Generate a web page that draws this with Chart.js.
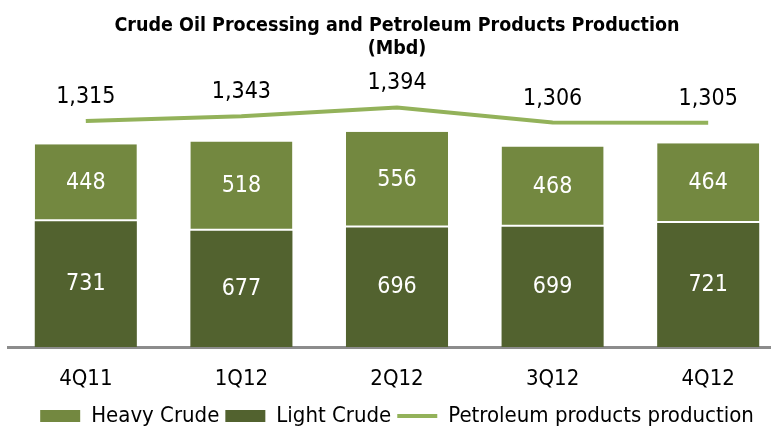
<!DOCTYPE html>
<html>
<head>
<meta charset="utf-8">
<script src="https://cdn.jsdelivr.net/npm/chart.js@4"></script>
<style>
  body { margin: 0; background: #fff; overflow: hidden; }
  #wrap { position: relative; width: 790px; height: 426px; }
</style>
</head>
<body>
<div id="wrap"><canvas id="chart"></canvas></div>
<script>
const quarters = ['4Q11', '1Q12', '2Q12', '3Q12', '4Q12'];
const lightCrude = [731, 677, 696, 699, 721];
const heavyCrude = [448, 518, 556, 468, 464];
const productsProduction = [1315, 1343, 1394, 1306, 1305];

const fontFamily = "'DejaVu Sans Condensed', 'Liberation Sans Narrow', sans-serif";
const legendOrder = ['Heavy Crude', 'Light Crude', 'Petroleum products production'];

// draws the numbers inside the bars and above the line
const valueLabels = {
    id: 'valueLabels',
    afterDatasetsDraw(chart) {
        const ctx = chart.ctx;
        ctx.save();
        ctx.textAlign = 'center';
        ctx.textBaseline = 'middle';
        ctx.font = '23px ' + fontFamily;
        chart.data.datasets.forEach((dataset, i) => {
            const meta = chart.getDatasetMeta(i);
            meta.data.forEach((el, j) => {
                const value = dataset.data[j];
                if (meta.type === 'bar') {
                    const p = el.getProps(['x', 'y', 'base'], true);
                    ctx.fillStyle = '#ffffff';
                    ctx.fillText(value, p.x, (p.y + p.base) / 2);
                } else {
                    ctx.fillStyle = '#000000';
                    ctx.fillText(value.toLocaleString('en-US'), el.x, el.y - 24);
                }
            });
        });
        ctx.restore();
    }
};

const ctx = document.getElementById('chart').getContext('2d');
new Chart(ctx, {
    type: 'bar',
    data: {
        labels: quarters,
        datasets: [
            {
                label: 'Light Crude',
                data: lightCrude,
                stack: 'crude',
                backgroundColor: '#52622f',
                borderWidth: 0,
                pointStyle: 'rect'
            },
            {
                label: 'Heavy Crude',
                data: heavyCrude,
                stack: 'crude',
                backgroundColor: '#738840',
                borderColor: '#ffffff',
                borderWidth: { top: 0, left: 0, right: 0, bottom: 2 },
                borderSkipped: false,
                pointStyle: 'rect'
            },
            {
                type: 'line',
                label: 'Petroleum products production',
                data: productsProduction,
                stack: 'line',
                borderColor: '#93b25a',
                backgroundColor: '#93b25a',
                borderWidth: 4,
                pointRadius: 0,
                pointStyle: 'line',
                tension: 0
            }
        ]
    },
    options: {
        responsive: true,
        maintainAspectRatio: false,
        animation: false,
        datasets: {
            bar: { barPercentage: 0.656, categoryPercentage: 1 }
        },
        layout: { padding: { left: 8, right: 4, top: 0, bottom: -11 } },
        scales: {
            x: {
                stacked: true,
                grid: { display: false },
                border: { display: true, color: '#8c8c8c', width: 3 },
                ticks: { color: '#000', padding: 11, font: { family: fontFamily, size: 22 } },
                afterFit(scale) { scale.height = 52; }
            },
            y: {
                stacked: true,
                display: false,
                min: 0,
                max: 1600
            }
        },
        plugins: {
            title: {
                display: true,
                text: ['Crude Oil Processing and Petroleum Products Production', '(Mbd)'],
                color: '#000',
                font: { family: fontFamily, size: 19.5, weight: 'bold', lineHeight: 1.2 },
                padding: { top: 14, bottom: 11.2 }
            },
            legend: {
                position: 'bottom',
                labels: {
                    color: '#000',
                    font: { family: fontFamily, size: 22 },
                    usePointStyle: true,
                    pointStyleWidth: 40,
                    boxHeight: 12,
                    padding: 6,
                    sort: (a, b) => legendOrder.indexOf(a.text) - legendOrder.indexOf(b.text),
                    generateLabels(chart) {
                        const items = Chart.defaults.plugins.legend.labels.generateLabels(chart);
                        items.forEach(item => {
                            if (item.datasetIndex < 2) item.lineWidth = 0;
                        });
                        return items;
                    }
                }
            },
            tooltip: { enabled: false }
        }
    },
    plugins: [valueLabels]
});
</script>
</body>
</html>
